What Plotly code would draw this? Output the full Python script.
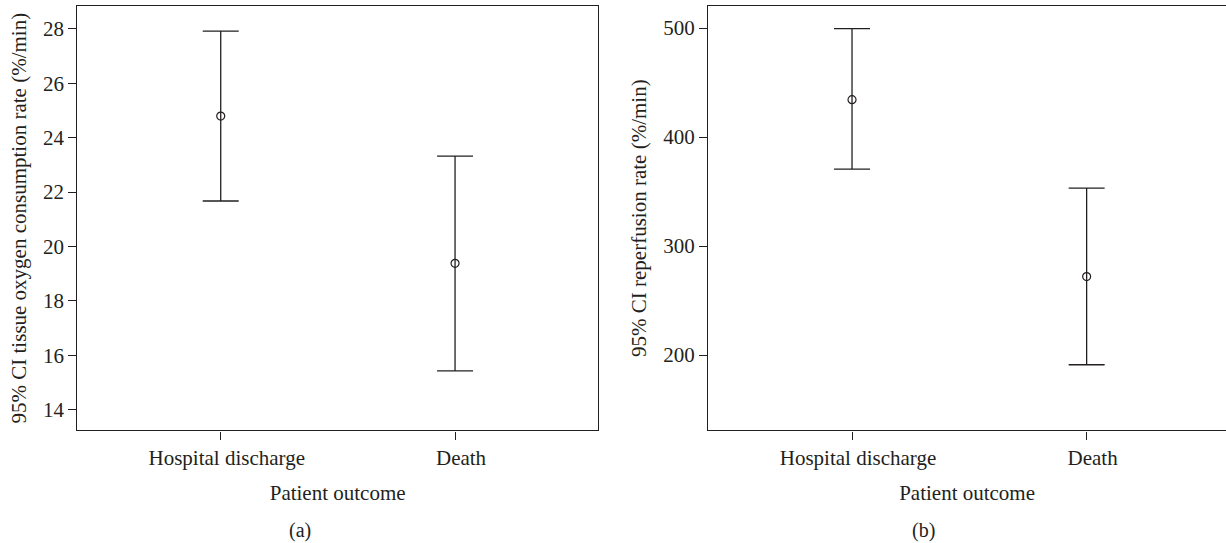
import plotly.graph_objects as go

categories = ["Hospital discharge", "Death"]

# Panel (a): tissue oxygen consumption rate (%/min)
a_mean = [24.79, 19.38]
a_upper = [27.91, 23.32]
a_lower = [21.67, 15.43]

# Panel (b): reperfusion rate (%/min)
b_mean = [434.3, 272.0]
b_upper = [499.4, 353.2]
b_lower = [370.6, 191.1]

a_ticks = [14, 16, 18, 20, 22, 24, 26, 28]
b_ticks = [200, 300, 400, 500]

FONT = "Liberation Serif"
INK = "#231f20"
W, H = 1226, 543


def trace(mean, upper, lower, xa, ya):
    return go.Scatter(
        x=categories, y=mean, xaxis=xa, yaxis=ya, mode="markers",
        marker=dict(symbol="circle-open", size=8, color=INK, line=dict(width=1.2, color=INK)),
        error_y=dict(type="data", symmetric=False,
                     array=[u - m for u, m in zip(upper, mean)],
                     arrayminus=[m - l for m, l in zip(mean, lower)],
                     color=INK, thickness=1.3, width=18),
        showlegend=False, hoverinfo="skip",
    )


fig = go.Figure()
fig.add_trace(trace(a_mean, a_upper, a_lower, "x", "y"))
fig.add_trace(trace(b_mean, b_upper, b_lower, "x2", "y2"))

axis_common = dict(showline=True, linecolor=INK, linewidth=1.3,
                   showgrid=False, zeroline=False, ticks="outside", ticklen=8,
                   tickcolor=INK, tickwidth=1.2,
                   tickfont=dict(family=FONT, size=21, color=INK))

ydom = [1 - 430.4 / H, 1 - 5.9 / H]

fig.update_layout(
    width=W, height=H,
    margin=dict(l=0, r=0, t=0, b=0),
    paper_bgcolor="white", plot_bgcolor="white",
    font=dict(family=FONT, size=21, color=INK),
    xaxis=dict(domain=[77.3 / W, 598 / W], anchor="y", type="category",
               range=[-0.612, 1.61], mirror=True, ticklabelshift=6,
               title=dict(text="Patient outcome", font=dict(size=21), standoff=16),
               **axis_common),
    yaxis=dict(domain=ydom, anchor="x", range=[13.24, 28.84], mirror=True,
               tickvals=a_ticks,
               title=dict(text="95% CI tissue oxygen consumption rate (%/min)",
                          font=dict(size=21), standoff=10),
               **axis_common),
    xaxis2=dict(domain=[708.2 / W, 1.0], anchor="y2", type="category",
                range=[-0.613, 1.594], mirror=True, ticklabelshift=6,
                title=dict(text="Patient outcome", font=dict(size=21), standoff=16),
                **axis_common),
    yaxis2=dict(domain=ydom, anchor="x2", range=[130.9, 520.3], mirror=False,
                tickvals=b_ticks,
                title=dict(text="95% CI reperfusion rate (%/min)",
                           font=dict(size=21), standoff=10),
                **axis_common),
    annotations=[
        dict(text="(a)", x=300 / W, y=1 - 530 / H, xref="paper", yref="paper",
             xanchor="center", yanchor="middle", showarrow=False, font=dict(size=20)),
        dict(text="(b)", x=923.5 / W, y=1 - 530 / H, xref="paper", yref="paper",
             xanchor="center", yanchor="middle", showarrow=False, font=dict(size=20)),
    ],
)

fig.write_html("out.html", config={"displayModeBar": False},
               post_script="document.body.style.margin='0';")
